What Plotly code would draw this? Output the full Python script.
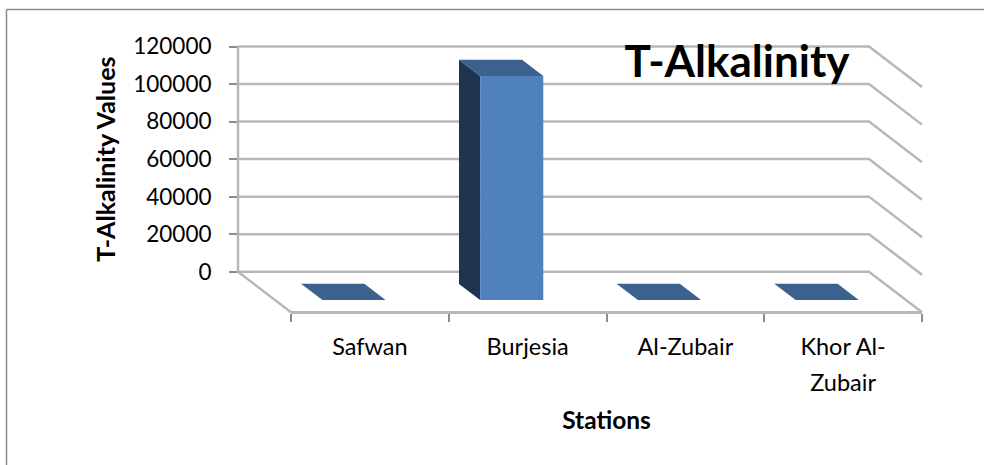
import plotly.graph_objects as go

W, H = 984, 465

categories = ["Safwan", "Burjesia", "Al-Zubair", "Khor Al-<br>Zubair"]
values = [100, 119400, 100, 100]
y_ticks = [0, 20000, 40000, 60000, 80000, 100000, 120000]
chart_title = "T-Alkalinity"
x_title = "Stations"
y_title = "T-Alkalinity Values"

FONT = "Lato, Carlito, Calibri, sans-serif"
FRONT, TOP, SIDE = "#4F81BD", "#3B618F", "#1F344F"
GRID = "#B8B8B8"
AXIS = "#8C8C8C"

# plot box in pixels: category axis on the front floor edge, value axis on the back wall
FX0, FX1 = 291.0, 922.0
BY0, BY1 = 271.7, 46.5
FRONT_Y = 312.3
BACK_X = 238.0

n = len(categories)
ymax = y_ticks[-1]
cat_px = (FX1 - FX0) / n
val_px = (BY0 - BY1) / ymax
DX = (FX0 - BACK_X) / cat_px          # depth shift, in category units
DY = (FRONT_Y - BY0) / val_px         # depth drop, in value units


def project(u, v, d):
    """Oblique projection: u in categories, v in values, d depth 0 (back) to 1 (front)."""
    return u + (d - 1) * DX, v - d * DY


def poly(points, color):
    pts = [project(*p) for p in points]
    xs = [p[0] for p in pts] + [pts[0][0]]
    ys = [p[1] for p in pts] + [pts[0][1]]
    return go.Scatter(x=xs, y=ys, mode="lines", fill="toself", fillcolor=color,
                      line=dict(width=0, color=color), xaxis="x2", yaxis="y2",
                      hoverinfo="skip", showlegend=False)


def path(points, color, width):
    pts = [project(*p) for p in points]
    return go.Scatter(x=[p[0] for p in pts], y=[p[1] for p in pts], mode="lines",
                      line=dict(width=width, color=color), xaxis="x2", yaxis="y2",
                      hoverinfo="skip", showlegend=False)


# the larger axis font sets the roomier line spacing of the wrapped label
labels = [f'<span style="font-size:23.5px">{c}</span>'.replace("<br>", '</span><br><span style="font-size:23.5px">')
          for c in categories]

fig = go.Figure()

# invisible carrier so the real category axis knows its categories
fig.add_trace(go.Scatter(x=labels, y=values, mode="markers", marker=dict(opacity=0),
                         hoverinfo="skip", showlegend=False))

# walls: gridlines on back wall and right wall
for t in y_ticks:
    if t == 0:
        fig.add_trace(path([(0, 0, 1), (0, 0, 0), (n, 0, 0), (n, 0, 1)], GRID, 2.5))
    else:
        fig.add_trace(path([(0, t, 0), (n, t, 0), (n, t, 1)], GRID, 2.5))
fig.add_trace(path([(0, 0, 0), (0, ymax, 0)], GRID, 2.5))

# bars
D0, D1 = 0.3, 0.7
U0, U1 = 0.3, 0.7
for i, v in enumerate(values):
    a, b = i + U0, i + U1
    fig.add_trace(poly([(a, 0, D0), (a, 0, D1), (a, v, D1), (a, v, D0)], SIDE))
    fig.add_trace(poly([(a, 0, D1), (b, 0, D1), (b, v, D1), (a, v, D1)], FRONT))
    fig.add_trace(poly([(a, v, D0), (b, v, D0), (b, v, D1), (a, v, D1)], TOP))

fig.update_layout(
    width=W, height=H,
    margin=dict(l=0, r=0, t=0, b=0),
    paper_bgcolor="white", plot_bgcolor="rgba(0,0,0,0)",
    font=dict(family=FONT, size=24, color="black"),
    showlegend=False,
    title=dict(text=f"<b>{chart_title}</b>", x=737 / W, y=1 - 62 / H, xanchor="center", yanchor="middle",
               xref="paper", yref="paper", font=dict(family=FONT, size=44, color="black")),
    xaxis=dict(
        domain=[FX0 / W, FX1 / W], type="category", categoryorder="array", categoryarray=labels,
        range=[-0.5, n - 0.5], anchor="free", position=1 - FRONT_Y / H,
        tickson="boundaries", ticks="outside", ticklen=8, tickwidth=1.5, tickcolor=AXIS,
        showline=True, linecolor=GRID, linewidth=2.5, showgrid=False, zeroline=False,
        tickangle=0, ticklabelstandoff=8, tickfont=dict(family=FONT, size=27.5),
        automargin=False,
        title=dict(text=f"<b>{x_title}</b>", font=dict(family=FONT, size=24.5), standoff=17),
    ),
    yaxis=dict(
        domain=[1 - BY0 / H, 1 - BY1 / H], range=[0, ymax], tickvals=y_ticks,
        tickformat="d", anchor="free", position=BACK_X / W,
        ticks="outside", ticklen=9, tickwidth=1.5, tickcolor=AXIS,
        showline=False, showgrid=False, zeroline=False, automargin=False,
        ticklabelstandoff=13, tickfont=dict(family=FONT, size=22.5),
        title=dict(text=f"<b>{y_title}</b>", font=dict(family=FONT, size=25), standoff=9),
    ),
    xaxis2=dict(domain=[0, 1], range=[-FX0 / cat_px, (W - FX0) / cat_px], visible=False,
                anchor="y2", fixedrange=True),
    yaxis2=dict(domain=[0, 1], range=[(BY0 - H) / val_px, BY0 / val_px], visible=False,
                anchor="x2", fixedrange=True),
    shapes=[
        dict(type="line", xref="paper", yref="paper", x0=6.5 / W, x1=6.5 / W, y0=0, y1=1 - 9.5 / H,
             line=dict(color="#8C8C8C", width=1.5)),
        dict(type="line", xref="paper", yref="paper", x0=6.5 / W, x1=1, y0=1 - 9.5 / H, y1=1 - 9.5 / H,
             line=dict(color="#8C8C8C", width=1.5)),
    ],
)

fig.write_html("out.html", config={"displayModeBar": False},
               post_script="document.body.style.margin='0';document.documentElement.style.overflow='hidden';")
